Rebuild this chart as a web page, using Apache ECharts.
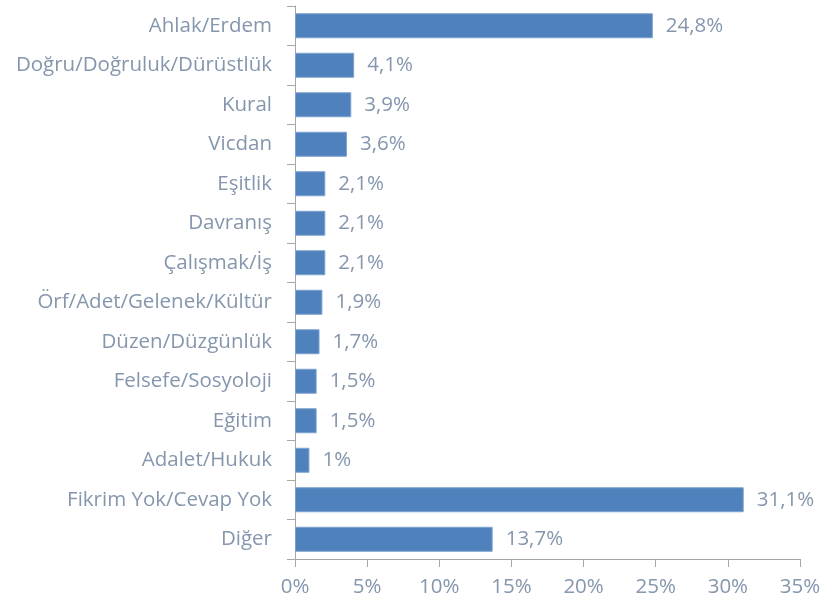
<!DOCTYPE html>
<html>
<head>
<meta charset="utf-8">
<script src="https://cdn.jsdelivr.net/npm/echarts@6/dist/echarts.min.js"></script>
<style>
html,body{margin:0;padding:0;background:#fff;}
#chart{width:826px;height:604px;}
</style>
</head>
<body>
<div id="chart"></div>
<script>
// kategoriler (yukaridan asagiya)
var categories = ['Ahlak/Erdem', 'Doğru/Doğruluk/Dürüstlük', 'Kural', 'Vicdan', 'Eşitlik', 'Davranış',
	'Çalışmak/İş', 'Örf/Adet/Gelenek/Kültür', 'Düzen/Düzgünlük', 'Felsefe/Sosyoloji', 'Eğitim',
	'Adalet/Hukuk', 'Fikrim Yok/Cevap Yok', 'Diğer'];
var values = [24.8, 4.1, 3.9, 3.6, 2.1, 2.1, 2.1, 1.9, 1.7, 1.5, 1.5, 1, 31.1, 13.7];
var xTicks = [0, 5, 10, 15, 20, 25, 30, 35];

var textColor = '#8596ad';
var axisColor = '#a6a6a6';
var fontName = 'Open Sans';
var fontSize = 20.5;

var Chart1 = echarts.init(document.getElementById('chart'));
Chart1.setOption({
	animation: false,
	backgroundColor: '#fff',
	grid: {
		left: 295,
		right: 26,
		top: 6,
		bottom: 45,
		containLabel: false
	},
	xAxis: {
		type: 'value',
		min: xTicks[0],
		max: xTicks[xTicks.length - 1],
		interval: 5,
		axisLine: { show: true, lineStyle: { color: axisColor } },
		axisTick: { show: true, length: 8, lineStyle: { color: axisColor } },
		splitLine: { show: false },
		axisLabel: {
			color: textColor,
			fontSize: fontSize,
			fontFamily: fontName,
			margin: 18,
			formatter: function (v) { return v + '%'; }
		}
	},
	yAxis: {
		type: 'category',
		data: categories,
		inverse: true,
		axisLine: { show: true, lineStyle: { color: axisColor } },
		axisTick: { show: true, length: 8, lineStyle: { color: axisColor } },
		axisLabel: {
			color: textColor,
			fontSize: fontSize,
			fontFamily: fontName,
			margin: 23
		}
	},
	series: [{
		type: 'bar',
		data: values,
		barWidth: 25,
		itemStyle: {
			color: '#4f81bd',
			borderColor: '#7ea2cf',
			borderWidth: 1
		},
		label: {
			show: true,
			position: 'right',
			distance: 13,
			color: textColor,
			fontSize: fontSize,
			fontFamily: fontName,
			formatter: function (p) { return String(p.value).replace('.', ',') + '%'; }
		}
	}]
});
</script>
</body>
</html>
